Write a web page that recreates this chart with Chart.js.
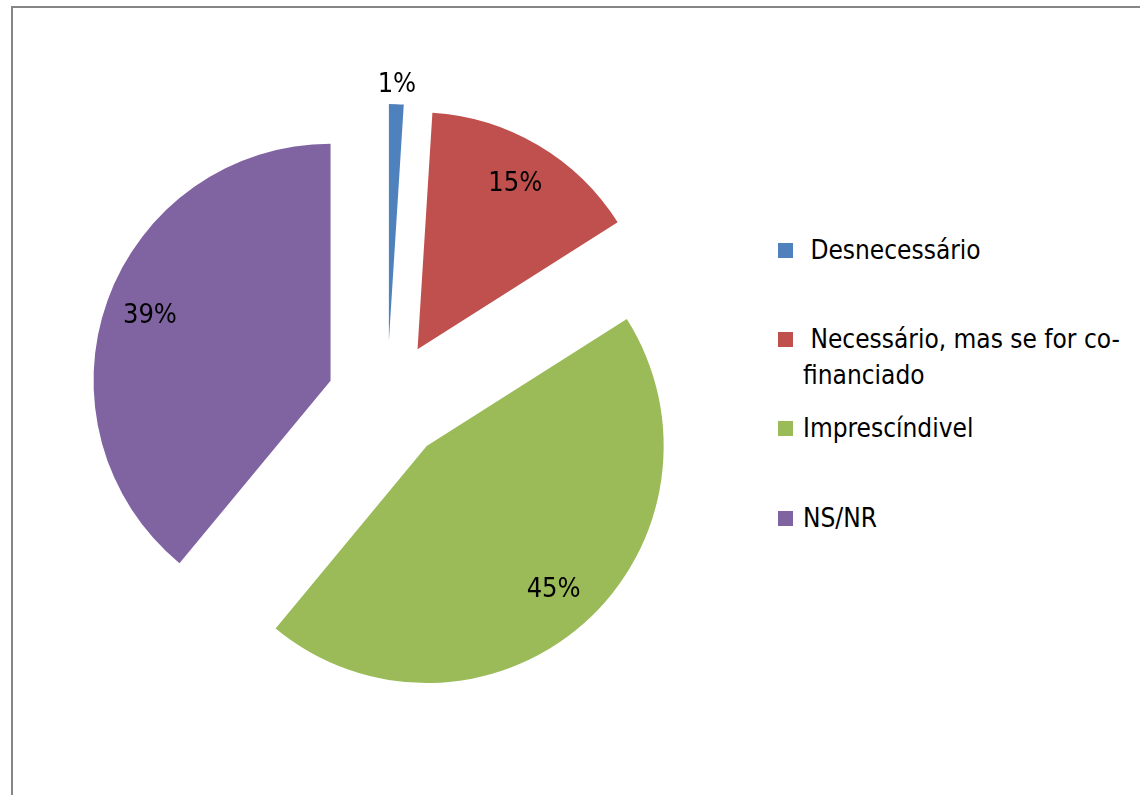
<!DOCTYPE html>
<html>
<head>
<meta charset="utf-8">
<script src="https://cdn.jsdelivr.net/npm/chart.js@4.4.1/dist/chart.umd.min.js"></script>
<style>
  html, body { margin: 0; padding: 0; background: #fff; overflow: hidden; }
  body { width: 1140px; height: 795px; position: relative; }
  .frame { position: absolute; left: 11px; top: 6px; width: 1160px; height: 820px; border: 2px solid #868686; }
  #mycanvas { position: absolute; left: 0; top: 0; }
  .legend { position: absolute; left: 778px; top: 0; font-family: 'Liberation Sans Narrow', 'DejaVu Sans Condensed', sans-serif; font-size: 26px; color: #000; }
  .legend .item { position: absolute; left: 0; width: 350px; }
  .legend .box { position: absolute; left: 0; width: 15px; height: 15px; }
  .legend .txt { position: absolute; left: 25px; width: 330px; line-height: 36px; white-space: pre-wrap; }
</style>
</head>
<body>
<div class="frame"></div>
<canvas id="mycanvas" width="774" height="795"></canvas>
<div class="legend" id="legend"></div>
<script>
var categories = ['Desnecessário', 'Necessário, mas se for co-financiado', 'Imprescíndivel', 'NS/NR'];
var percents = [1, 15, 45, 39];
var colors = ['#4F81BD', '#C0504D', '#9BBB59', '#8064A2'];

var EXPLODE = 60;

// draw every slice pulled out from the centre, then the % labels
var explode = {
    id: 'explode',
    beforeDatasetDraw: function (chart, args) {
        var ctx = chart.ctx;
        args.meta.data.forEach(function (arc) {
            var mid = (arc.startAngle + arc.endAngle) / 2;
            ctx.save();
            ctx.translate(Math.cos(mid) * EXPLODE, Math.sin(mid) * EXPLODE);
            arc.draw(ctx);
            ctx.restore();
        });
        return false;
    },
    afterDatasetsDraw: function (chart) {
        var ctx = chart.ctx;
        var meta = chart.getDatasetMeta(0);
        ctx.save();
        ctx.fillStyle = '#000';
        ctx.font = "27px 'Liberation Sans Narrow', 'DejaVu Sans Condensed', sans-serif";
        ctx.textAlign = 'center';
        ctx.textBaseline = 'middle';
        meta.data.forEach(function (arc, i) {
            var mid = (arc.startAngle + arc.endAngle) / 2;
            var r = percents[i] < 5 ? arc.outerRadius + 19 : arc.outerRadius * 0.81;
            var x = arc.x + Math.cos(mid) * (EXPLODE + r);
            var y = arc.y + Math.sin(mid) * (EXPLODE + r);
            ctx.fillText(percents[i] + '%', x, y);
        });
        ctx.restore();
    }
};

var ctx = document.getElementById('mycanvas');
var pieChart = new Chart(ctx, {
    type: 'pie',
    data: {
        labels: categories,
        datasets: [{
            data: percents,
            backgroundColor: colors,
            borderWidth: 0,
            radius: 237
        }]
    },
    options: {
        responsive: false,
        animation: false,
        layout: { padding: { top: 7 } },
        plugins: {
            legend: { display: false },
            tooltip: { enabled: false }
        }
    },
    plugins: [explode]
});

// legend on the right, built from the chart's labels
var tops = [232, 321, 410, 500];
var legend = document.getElementById('legend');
pieChart.data.labels.forEach(function (label, i) {
    var item = document.createElement('div');
    item.className = 'item';
    item.style.top = tops[i] + 'px';
    var box = document.createElement('div');
    box.className = 'box';
    box.style.background = colors[i];
    box.style.top = '11px';
    var txt = document.createElement('div');
    txt.className = 'txt';
    txt.textContent = (i < 2 ? ' ' : '') + label;
    item.appendChild(box);
    item.appendChild(txt);
    legend.appendChild(item);
});
</script>
</body>
</html>
